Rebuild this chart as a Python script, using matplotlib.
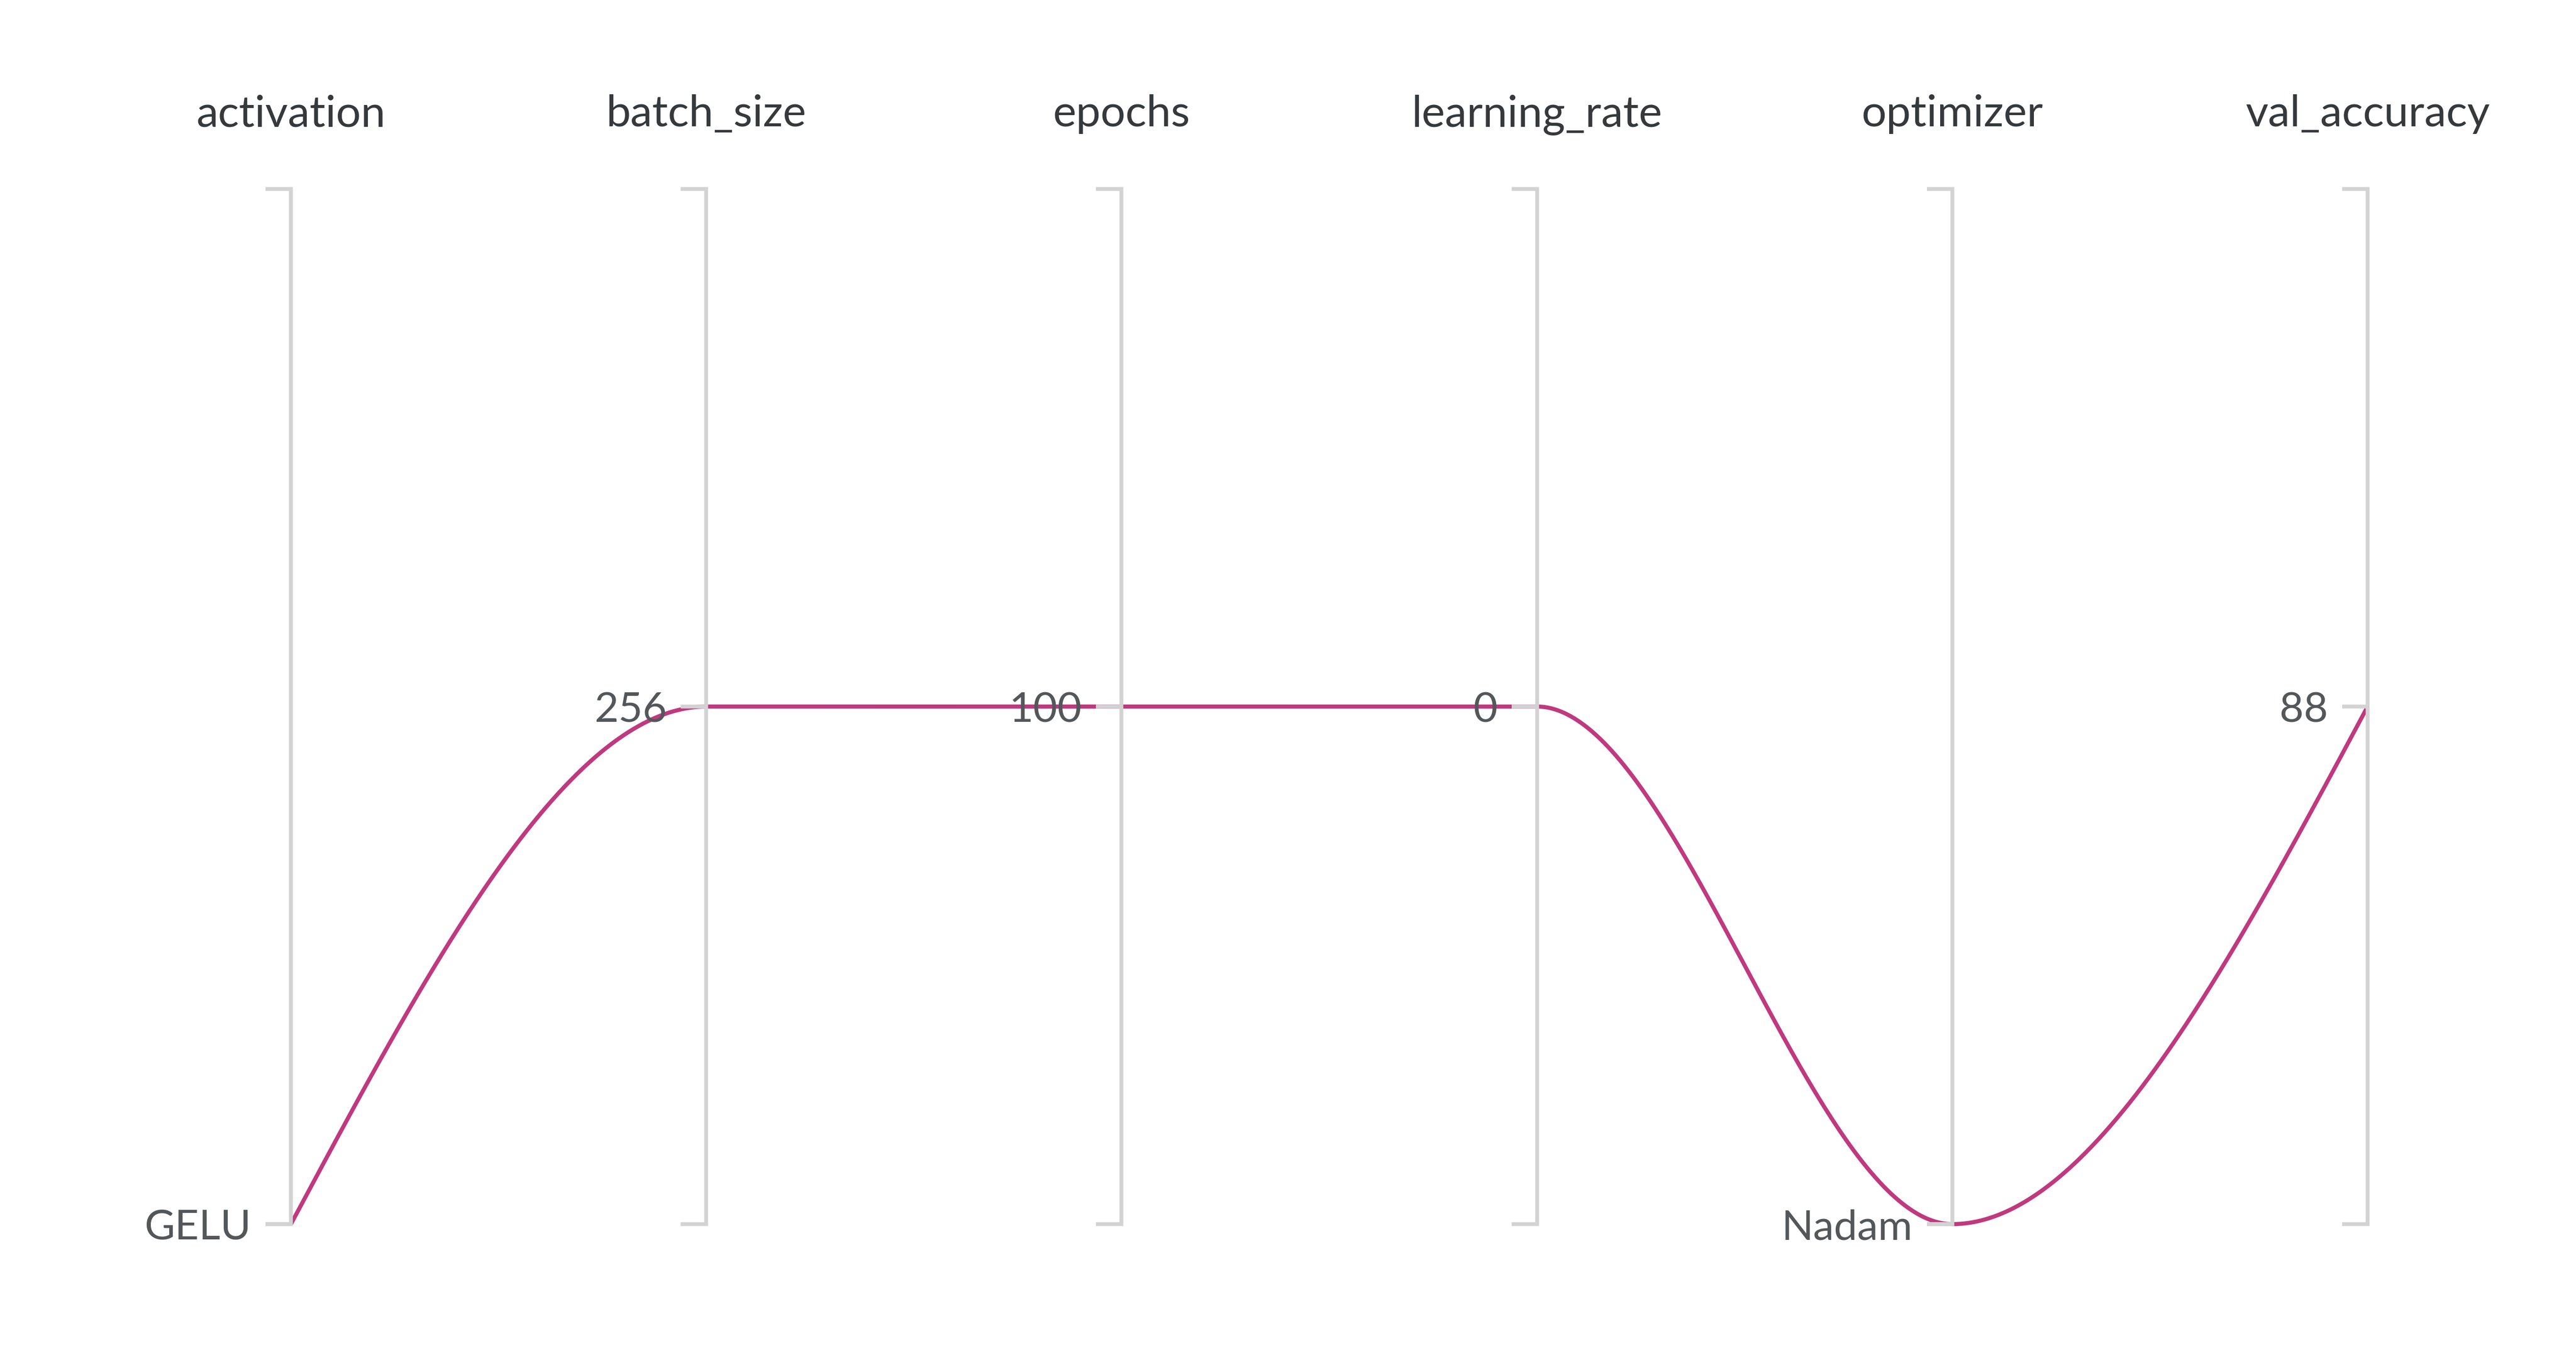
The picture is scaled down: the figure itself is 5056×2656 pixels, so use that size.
import numpy as np
import matplotlib
matplotlib.use("Agg")
import matplotlib.pyplot as plt

# one run, parallel coordinates
columns = ["activation", "batch_size", "epochs", "learning_rate", "optimizer", "val_accuracy"]
run_values = ["GELU", 256, 100, 0, "Nadam", 88]
tick_labels = ["GELU", "256", "100", "0", "Nadam", "88"]

line_color = "#c0397f"
axis_color = "#d3d3d3"
title_color = "#36393c"
label_color = "#53575a"

plt.rcParams["font.family"] = ["Lato", "DejaVu Sans"]


def normalize(v):
    # categorical axis with a single category sits at the bottom,
    # numeric axis with a single value sits in the middle
    if isinstance(v, str):
        return 0.0
    return 0.5


def monotone_x(x, y, n=200):
    # monotone cubic interpolation (same idea as d3.curveMonotoneX)
    x = np.asarray(x, float)
    y = np.asarray(y, float)
    h = np.diff(x)
    s = np.diff(y) / h
    t = np.zeros(len(x))
    for i in range(1, len(x) - 1):
        if s[i - 1] * s[i] <= 0:
            t[i] = 0
        else:
            p = (s[i - 1] * h[i] + s[i] * h[i - 1]) / (h[i - 1] + h[i])
            t[i] = (np.sign(s[i - 1]) + np.sign(s[i])) * min(abs(s[i - 1]), abs(s[i]), 0.5 * abs(p))
    t[0] = (3 * s[0] - t[1]) / 2 if len(x) > 2 else s[0]
    t[-1] = (3 * s[-1] - t[-2]) / 2 if len(x) > 2 else s[-1]
    xs, ys = [], []
    for i in range(len(x) - 1):
        u = np.linspace(0, 1, n)
        h00 = 2 * u**3 - 3 * u**2 + 1
        h10 = u**3 - 2 * u**2 + u
        h01 = -2 * u**3 + 3 * u**2
        h11 = u**3 - u**2
        xs.append(x[i] + u * h[i])
        ys.append(h00 * y[i] + h10 * h[i] * t[i] + h01 * y[i + 1] + h11 * h[i] * t[i + 1])
    return np.concatenate(xs), np.concatenate(ys)


fig = plt.figure(figsize=(25.28, 13.28), dpi=200)
ax = fig.add_axes([571 / 5056, 253 / 2656, 4076 / 5056, 2032 / 2656])
ax.set_xlim(0, len(columns) - 1)
ax.set_ylim(0, 1)
ax.axis("off")

xpos = np.arange(len(columns))
ypos = [normalize(v) for v in run_values]

cx, cy = monotone_x(xpos, ypos)
ax.plot(cx, cy, color=line_color, lw=2.9, zorder=1, clip_on=False, solid_capstyle="butt")

tick = 50 / 815.2
for i, name in enumerate(columns):
    x = xpos[i]
    ax.plot([x - tick, x, x, x - tick], [1, 1, 0, 0], color=axis_color, lw=2.7,
            zorder=2, clip_on=False, solid_joinstyle="miter", solid_capstyle="butt")
    ax.plot([x - tick, x], [ypos[i], ypos[i]], color=axis_color, lw=2.7, zorder=2,
            clip_on=False, solid_capstyle="butt")
    ax.annotate(tick_labels[i], (x - tick, ypos[i]), xytext=(-10, 0), textcoords="offset points",
                ha="right", va="center_baseline", fontsize=29.5, color=label_color, zorder=3,
                annotation_clip=False)
    ax.text(x, 1.0605, name, ha="center", va="baseline", fontsize=31, color=title_color,
            clip_on=False)

fig.savefig("out.png", dpi=200, facecolor="white")
